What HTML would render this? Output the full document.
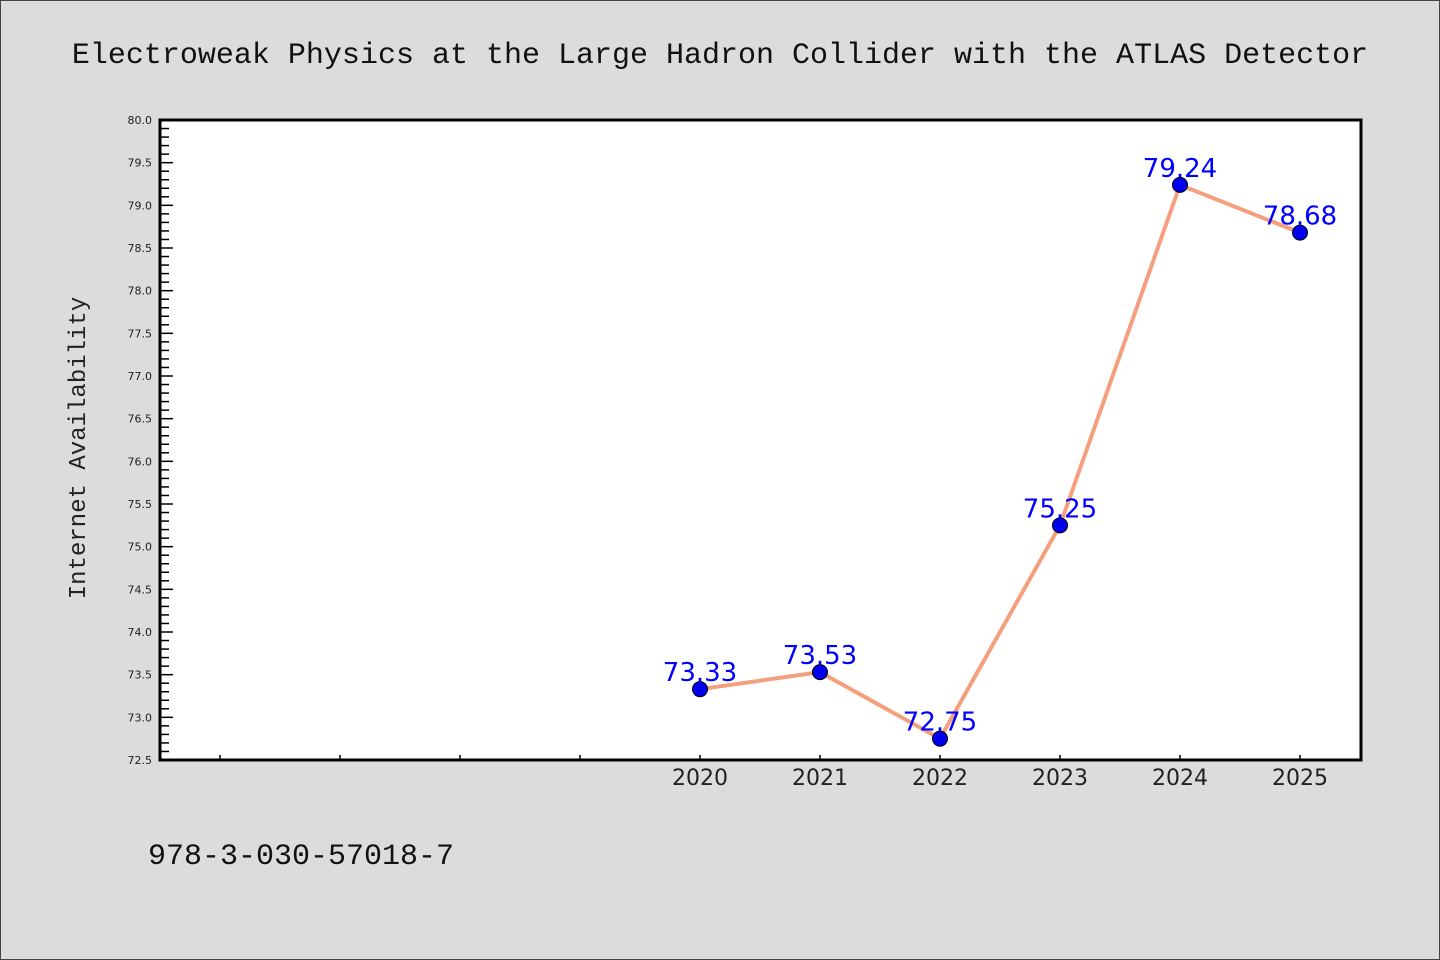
<!DOCTYPE html>
<html><head><meta charset="utf-8"><style>
html,body{margin:0;padding:0;background:#dcdcdc;}
svg{display:block;}
</style></head><body>
<svg id="chart" width="1440" height="960" xmlns="http://www.w3.org/2000/svg">
<rect x="0.5" y="0.5" width="1439" height="959" fill="#dcdcdc" stroke="#444" stroke-width="1"/>
<text x="720" y="63" text-anchor="middle" font-family="Liberation Mono, DejaVu Sans Mono, monospace" font-size="30" fill="#111">Electroweak Physics at the Large Hadron Collider with the ATLAS Detector</text>
<rect x="160" y="120" width="1201" height="640" fill="#fff"/>
<g id="yaxis"></g>
<g id="xaxis"></g>
<g id="series"></g>
<rect x="160" y="120" width="1201" height="640" fill="none" stroke="#000" stroke-width="3"/>
<text transform="translate(85,448) rotate(-90)" text-anchor="middle" font-family="Liberation Mono, DejaVu Sans Mono, monospace" font-size="24" fill="#222">Internet Availability</text>
<text x="148" y="864" font-family="Liberation Mono, DejaVu Sans Mono, monospace" font-size="30" fill="#111">978-3-030-57018-7</text>
</svg>
<script>
const years = [2020, 2021, 2022, 2023, 2024, 2025];
const values = [73.33, 73.53, 72.75, 75.25, 79.24, 78.68];
const labels = ["73.33", "73.53", "72.75", "75.25", "79.24", "78.68"];
const yTicks = ["72.5","73.0","73.5","74.0","74.5","75.0","75.5","76.0","76.5","77.0","77.5","78.0","78.5","79.0","79.5","80.0"];
const xExtraTicks = [2016, 2017, 2018, 2019];

const NS = "http://www.w3.org/2000/svg";
const yMin = 72.5, yMax = 80.0, pTop = 120, pBottom = 760;
const xMin = 2015.5, xMax = 2025.5, pLeft = 160, pRight = 1360;
const ys = v => pBottom - (v - yMin) / (yMax - yMin) * (pBottom - pTop);
const xs = v => pLeft + (v - xMin) / (xMax - xMin) * (pRight - pLeft);
function mk(tag, attrs, parent){const e=document.createElementNS(NS,tag);for(const k in attrs)e.setAttribute(k,attrs[k]);parent.appendChild(e);return e;}

const ya = document.getElementById('yaxis');
for (let i = 0; i <= 75; i++) {
  const v = yMin + i * 0.1;
  const major = i % 5 === 0;
  const t = mk('line', {x1: pLeft, x2: pLeft + (major ? 13 : 9), y1: ys(v), y2: ys(v), stroke: '#000', 'stroke-width': 1.5}, ya);
  
  
}
yTicks.forEach(s => {
  const t = mk('text', {x: 152, y: ys(parseFloat(s)) + 4, 'text-anchor': 'end', 'font-family': 'DejaVu Sans, Liberation Sans, sans-serif', 'font-size': 11, fill: '#222'}, ya);
  t.textContent = s;
  
  
});

const xa = document.getElementById('xaxis');
xExtraTicks.concat(years).forEach(y => {
  const t = mk('line', {x1: xs(y), x2: xs(y), y1: pBottom, y2: pBottom - 5, stroke: '#000', 'stroke-width': 1.5}, xa);
  
  
});
years.forEach(y => {
  const t = mk('text', {x: xs(y), y: 785, 'text-anchor': 'middle', 'font-family': 'DejaVu Sans, Liberation Sans, sans-serif', 'font-size': 22, fill: '#222'}, xa);
  t.textContent = String(y);
  
  
});

const sg = document.getElementById('series');
const line = mk('polyline', {points: years.map((y,i)=>xs(y)+','+ys(values[i])).join(' '), fill: 'none', stroke: '#f4a07e', 'stroke-width': 4}, sg);


years.forEach((y,i) => {
  const c = mk('circle', {cx: xs(y), cy: ys(values[i]), r: 7.5, fill: '#0000ee', stroke: '#000', 'stroke-width': 1}, sg);
  
  
  const t = mk('text', {x: xs(y), y: ys(values[i]) - 8, 'text-anchor': 'middle', 'font-family': 'DejaVu Sans, Liberation Sans, sans-serif', 'font-size': 26, fill: '#0000ff'}, sg);
  t.textContent = labels[i];
  
  
});
</script>
</body></html>
